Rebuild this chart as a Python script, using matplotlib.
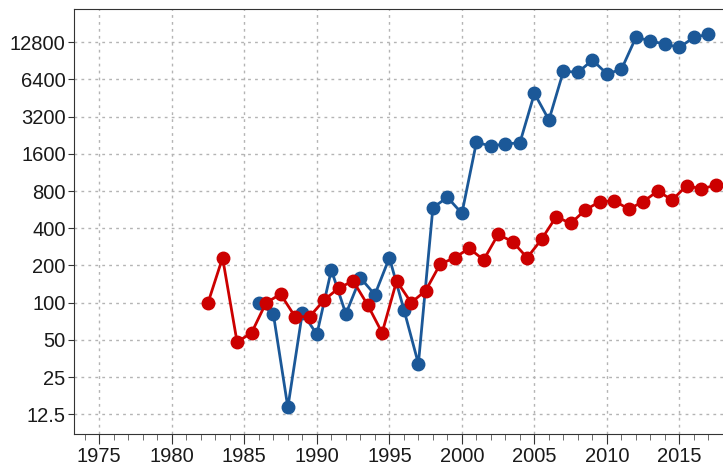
import numpy as np
import matplotlib.pyplot as plt
from matplotlib.ticker import FixedLocator, MultipleLocator, NullFormatter, NullLocator

plt.rcParams['font.family'] = ['Liberation Sans', 'DejaVu Sans']

# blue series (integer years)
blue_years = np.arange(1986, 2018)
blue_values = [100, 81, 14.2, 83, 55.5, 184, 81, 159, 116, 231, 88, 32,
               587, 712, 528, 1985, 1852, 1925, 1970, 4940, 3010, 7490, 7300, 9200,
               7100, 7740, 14050, 13150, 12330, 11650, 14050, 14890]

# red series (mid-year positions)
red_years = np.arange(1982, 2018) + 0.5
red_values = [100, 231, 48, 57, 100, 117, 77, 77, 105, 131, 150, 96,
              57, 150, 100, 125, 205, 231, 275, 222, 357, 311, 231, 327,
              496, 438, 562, 657, 668, 572, 657, 800, 678, 886, 833, 893]

y_ticks = [12.5, 25, 50, 100, 200, 400, 800, 1600, 3200, 6400, 12800]
y_labels = ["12.5", "25", "50", "100", "200", "400", "800", "1600", "3200", "6400", "12800"]
x_ticks = list(range(1975, 2020, 5))

fig = plt.figure(figsize=(7.23, 4.67), dpi=100)
ax = fig.add_axes([0.1024, 0.070, 0.8976, 0.9107])

ax.plot(blue_years, blue_values, color="#1b5898", lw=2, marker="o", ms=9, zorder=3)
ax.plot(red_years, red_values, color="#cc0000", lw=2, marker="o", ms=9, zorder=4)

ax.set_yscale("log", base=2)
ax.set_ylim(8.6, 23800)
ax.set_xlim(1973.26, 2018.0)

ax.yaxis.set_major_locator(FixedLocator(y_ticks))
ax.set_yticklabels(y_labels)
ax.yaxis.set_minor_locator(NullLocator())
ax.yaxis.set_minor_formatter(NullFormatter())
ax.set_xticks(x_ticks)
ax.xaxis.set_minor_locator(MultipleLocator(1))

ax.grid(True, which="major", color="#b4b4b4", linestyle=(0, (2, 3)), lw=1)
ax.tick_params(axis="both", which="major", labelsize=14.5, color="#333333", direction="out",
               labelcolor="#1a1a1a")
ax.tick_params(axis="x", which="major", length=7, pad=2)
ax.tick_params(axis="y", which="major", length=4, pad=2)
ax.tick_params(axis="x", which="minor", length=4, color="#555555")

for s in ["left", "bottom", "top"]:
    ax.spines[s].set_color("#333333")
ax.spines["right"].set_visible(False)

fig.savefig("out.png", dpi=100)
